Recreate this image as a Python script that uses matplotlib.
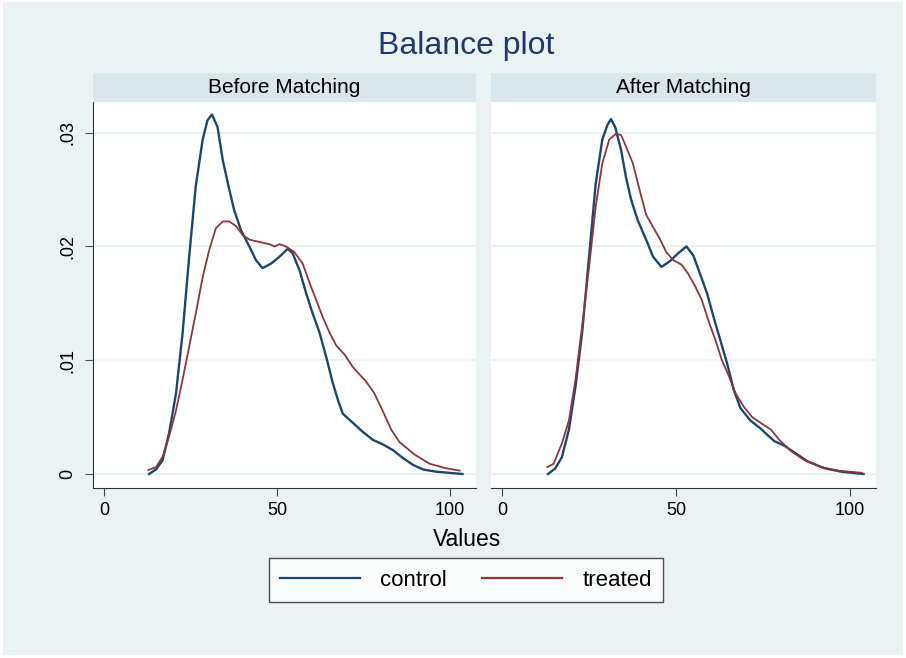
import matplotlib
matplotlib.use("Agg")
import matplotlib.pyplot as plt
from matplotlib.patches import Rectangle
from matplotlib.lines import Line2D

plt.rcParams['font.family'] = ['Liberation Sans', 'DejaVu Sans']

# ---- data ----
before_control_x = [13.0, 15.0, 16.9, 18.8, 20.8, 22.7, 24.6, 26.5, 28.5, 29.9, 31.2, 32.8, 34.3, 36.2, 37.6,
                    39.6, 42.0, 43.9, 45.8, 48.3, 50.7, 53.1, 54.5, 56.5, 58.4, 60.3, 62.3, 64.2, 66.1, 67.6,
                    69.0, 71.9, 74.8, 77.7, 80.6, 83.5, 86.4, 89.3, 92.2, 96.0, 99.9, 103.6]
before_control_y = [0.0000, 0.0004, 0.0012, 0.0036, 0.0071, 0.0124, 0.0191, 0.0253, 0.0294, 0.0311, 0.0316,
                    0.0305, 0.0276, 0.0250, 0.0232, 0.0214, 0.0200, 0.0188, 0.0181, 0.0185, 0.0191, 0.0198,
                    0.0194, 0.0179, 0.0159, 0.0141, 0.0124, 0.0103, 0.0080, 0.0065, 0.0053, 0.0045, 0.0037,
                    0.0030, 0.0026, 0.0021, 0.0014, 0.0008, 0.0004, 0.0002, 0.0001, 0.0000]

before_treated_x = [12.8, 15.0, 16.9, 18.8, 20.8, 22.7, 24.6, 26.5, 28.5, 30.4, 32.3, 34.3, 36.2, 38.1, 40.1,
                    42.0, 44.9, 47.8, 49.2, 50.7, 52.6, 55.0, 57.4, 59.4, 61.3, 63.2, 65.2, 67.1, 69.5, 71.9,
                    75.8, 78.1, 80.6, 83.0, 85.4, 89.8, 94.1, 98.9, 102.8]
before_treated_y = [0.00035, 0.0006, 0.0015, 0.0033, 0.0056, 0.0083, 0.0112, 0.0141, 0.0173, 0.0197, 0.0216,
                    0.0222, 0.0222, 0.0218, 0.0210, 0.0206, 0.0204, 0.0202, 0.0200, 0.0202, 0.0200, 0.0195,
                    0.0185, 0.0168, 0.0153, 0.0138, 0.0124, 0.0113, 0.0105, 0.0094, 0.0081, 0.0071, 0.0055,
                    0.0039, 0.0028, 0.0017, 0.0009, 0.0005, 0.0003]

after_control_x = [13.2, 15.3, 17.2, 19.2, 21.1, 23.0, 25.0, 26.9, 28.8, 30.3, 31.3, 32.5, 34.2, 35.6, 37.1,
                   39.0, 41.4, 43.4, 45.8, 48.2, 50.6, 53.0, 55.0, 56.9, 58.9, 60.8, 62.7, 64.7, 66.6, 68.5,
                   71.4, 74.3, 78.2, 81.1, 84.0, 87.9, 92.7, 97.6, 103.9]
after_control_y = [0.0000, 0.0005, 0.0015, 0.0039, 0.0077, 0.0124, 0.0191, 0.0255, 0.0294, 0.0307, 0.0312,
                   0.0305, 0.0285, 0.0261, 0.0241, 0.0223, 0.0206, 0.0191, 0.0182, 0.0187, 0.0194, 0.0200,
                   0.0192, 0.0176, 0.0159, 0.0138, 0.0118, 0.0097, 0.0074, 0.0058, 0.0047, 0.0040, 0.0029,
                   0.0025, 0.0019, 0.0011, 0.0005, 0.0002, 0.0000]

after_treated_x = [13.0, 14.8, 17.2, 19.2, 21.1, 23.0, 25.0, 26.9, 28.8, 30.8, 32.7, 34.2, 35.6, 37.6, 39.5,
                   41.4, 43.4, 45.3, 47.2, 49.2, 51.6, 53.5, 55.5, 57.4, 59.3, 61.3, 63.2, 65.2, 67.1, 69.5,
                   71.9, 74.3, 77.3, 79.7, 83.1, 87.0, 91.8, 96.6, 103.4]
after_treated_y = [0.0006, 0.0009, 0.0027, 0.0047, 0.0083, 0.0130, 0.0182, 0.0235, 0.0273, 0.0294, 0.0299,
                   0.0298, 0.0288, 0.0273, 0.0250, 0.0228, 0.0217, 0.0207, 0.0195, 0.0188, 0.0184, 0.0176,
                   0.0165, 0.0153, 0.0135, 0.0118, 0.0100, 0.0086, 0.0071, 0.0059, 0.0050, 0.0045, 0.0039,
                   0.0030, 0.0020, 0.0012, 0.0006, 0.0003, 0.0001]

panel_titles = ["Before Matching", "After Matching"]
series_labels = ["control", "treated"]
x_ticks = [0, 50, 100]
y_ticks = [0, 0.01, 0.02, 0.03]
y_ticklabels = ["0", ".01", ".02", ".03"]

# ---- style ----
BG = "#EAF2F3"
STRIP = "#D9E6EB"
BLUE = "#1A476F"
RED = "#90353B"
TITLE_C = "#1E3A6A"

W, H = 906, 658
fig = plt.figure(figsize=(W / 100, H / 100), dpi=100, facecolor="white")

def fx(px):
    return px / W

def fy(py):
    return 1 - py / H

# background panel inside a thin white border
fig.patches.append(Rectangle((fx(3), fy(655)), fx(900), 653 / H, transform=fig.transFigure,
                             facecolor=BG, edgecolor='none', zorder=-1))

panels = [(93, 476), (491, 876)]
top, bottom = 102, 488
axes = []
for i, (l, r) in enumerate(panels):
    ax = fig.add_axes([fx(l), fy(bottom), fx(r - l), (bottom - top) / H])
    ax.set_facecolor("white")
    ax.set_xlim(-3.2, 107.5)
    ax.set_ylim(-0.00123, 0.0327)
    ax.set_xticks(x_ticks)
    ax.set_xticklabels([str(t) for t in x_ticks], fontsize=13)
    ax.set_yticks(y_ticks)
    ax.grid(axis='y', color=BG, linewidth=1.5)
    ax.set_axisbelow(True)
    for s in ["top", "right"]:
        ax.spines[s].set_visible(False)
    ax.spines["bottom"].set_color("#333333")
    ax.spines["left"].set_color("#333333")
    ax.tick_params(axis='x', direction='out', length=6, color="#444444", pad=4)
    if i == 0:
        ax.set_yticklabels(y_ticklabels, rotation=90, va='center', fontsize=13)
        ax.tick_params(axis='y', direction='out', length=6, color="#555555", pad=6)
    else:
        ax.spines["left"].set_visible(False)
        ax.tick_params(axis='y', left=False, labelleft=False)
    # strip
    fig.patches.append(Rectangle((fx(l), fy(top)), fx(r - l), 29 / H, transform=fig.transFigure,
                                 facecolor=STRIP, edgecolor='none', zorder=0))
    fig.text(fx((l + r) / 2), fy(top - 14.5), panel_titles[i], ha='center', va='center', fontsize=15)
    axes.append(ax)

axes[0].plot(before_control_x, before_control_y, color=BLUE, lw=1.7)
axes[0].plot(before_treated_x, before_treated_y, color=RED, lw=1.3)
axes[1].plot(after_control_x, after_control_y, color=BLUE, lw=1.7)
axes[1].plot(after_treated_x, after_treated_y, color=RED, lw=1.3)

fig.text(fx(466), fy(46), "Balance plot", ha='center', va='center',
         fontsize=23, color=TITLE_C)
fig.text(fx(467), fy(539), "Values", ha='center', va='center', fontsize=16.5)

handles = [Line2D([], [], color=BLUE, lw=1.6), Line2D([], [], color=RED, lw=1.6)]
leg = fig.legend(handles, series_labels, loc='center', bbox_to_anchor=(fx(466), fy(580)),
                 ncol=2, fontsize=16, frameon=True, fancybox=False, handlelength=3.6,
                 columnspacing=1.6, handletextpad=0.9, borderpad=0.5)
leg.get_frame().set_edgecolor("#222222")
leg.get_frame().set_facecolor("white")
leg.get_frame().set_linewidth(1.0)

fig.savefig("out.png", dpi=100, facecolor="white")
